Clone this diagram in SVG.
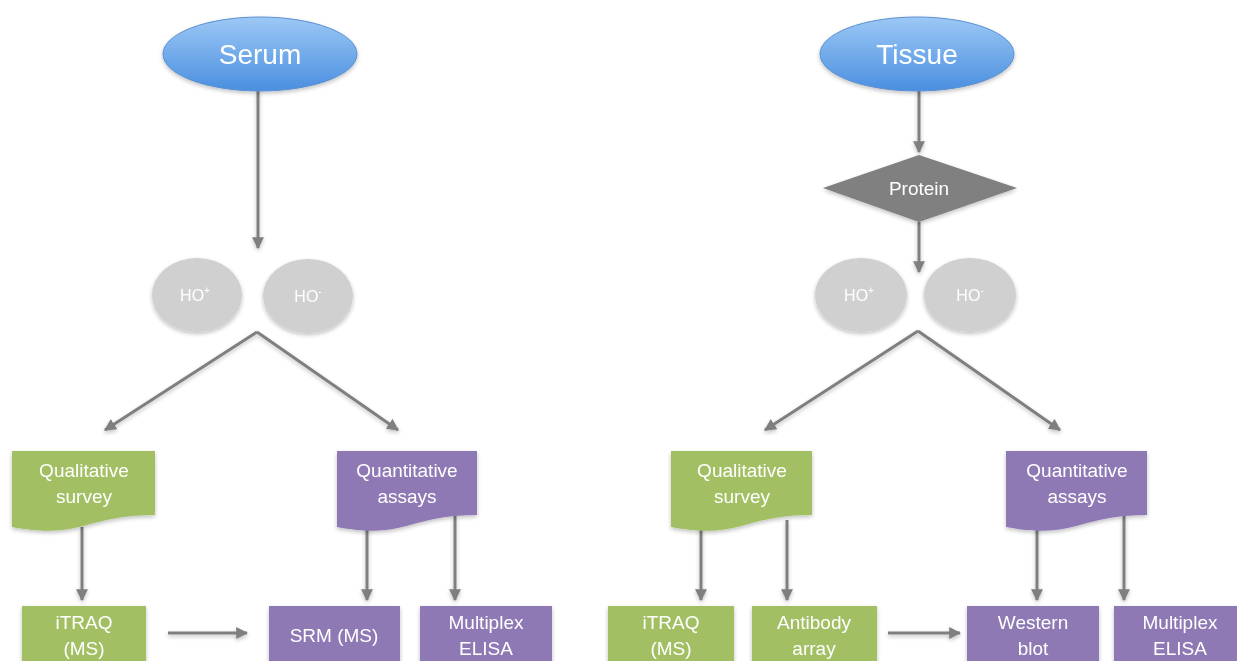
<svg xmlns="http://www.w3.org/2000/svg" width="1237" height="661" viewBox="0 0 1237 661">
<defs>
<linearGradient id="blue" x1="0" y1="0" x2="0" y2="1">
<stop offset="0" stop-color="#9CC8F5"/>
<stop offset="1" stop-color="#4A8FE0"/>
</linearGradient>
<filter id="sh" x="-20%" y="-20%" width="140%" height="150%">
<feGaussianBlur in="SourceAlpha" stdDeviation="2"/>
<feOffset dx="0" dy="2" result="b"/>
<feComponentTransfer><feFuncA type="linear" slope="0.25"/></feComponentTransfer>
<feMerge><feMergeNode/><feMergeNode in="SourceGraphic"/></feMerge>
</filter>
<marker id="ah" viewBox="0 0 10 10" refX="9" refY="5" markerWidth="4" markerHeight="4" orient="auto" markerUnits="strokeWidth">
<path d="M0,0 L10,5 L0,10 Z" fill="#7F7F7F"/>
</marker>
</defs>
<style>
.t{font-family:"Liberation Sans",Arial,sans-serif;fill:#fff;text-anchor:middle}
.big{font-size:28px}
.md{font-size:19px}
.sm{font-size:16px}
.green{fill:#A2C064}
.purple{fill:#8E79B4}
.gray{fill:#D0D0D0}
.dia{fill:#808080}
.c{stroke:#7F7F7F;stroke-width:3;fill:none;marker-end:url(#ah)}
</style>
<rect width="1237" height="661" fill="#fff"/>

<g id="connectors" filter="url(#sh)">
<line class="c" x1="258" y1="91" x2="258" y2="248"/>
<line class="c" x1="257" y1="332" x2="105" y2="430"/>
<line class="c" x1="257" y1="332" x2="398" y2="430"/>
<line class="c" x1="82" y1="527" x2="82" y2="600"/>
<line class="c" x1="367" y1="520" x2="367" y2="600"/>
<line class="c" x1="455" y1="516" x2="455" y2="600"/>
<line class="c" x1="168" y1="633" x2="247" y2="633"/>
<line class="c" x1="919" y1="91" x2="919" y2="152"/>
<line class="c" x1="919" y1="222" x2="919" y2="272"/>
<line class="c" x1="918" y1="331" x2="765" y2="430"/>
<line class="c" x1="918" y1="331" x2="1060" y2="430"/>
<line class="c" x1="701" y1="527" x2="701" y2="600"/>
<line class="c" x1="787" y1="520" x2="787" y2="600"/>
<line class="c" x1="1037" y1="520" x2="1037" y2="600"/>
<line class="c" x1="1124" y1="516" x2="1124" y2="600"/>
<line class="c" x1="888" y1="633" x2="960" y2="633"/>
</g>

<g id="serum" filter="url(#sh)">
<ellipse cx="260" cy="54" rx="97" ry="37" fill="url(#blue)" stroke="#5A8FD0" stroke-width="1"/>
<text class="t big" x="260" y="64">Serum</text>
</g>
<g id="tissue" filter="url(#sh)">
<ellipse cx="917" cy="54" rx="97" ry="37" fill="url(#blue)" stroke="#5A8FD0" stroke-width="1"/>
<text class="t big" x="917" y="64">Tissue</text>
</g>
<g id="protein" filter="url(#sh)">
<polygon class="dia" points="823,188 919,155 1017,188 919,222"/>
<text class="t md" x="919" y="195">Protein</text>
</g>

<g id="s-hoplus" filter="url(#sh)">
<ellipse class="gray" cx="197" cy="295" rx="45" ry="37"/>
<text class="t sm" x="195" y="301">HO<tspan font-size="10" dy="-7">+</tspan></text>
</g>
<g id="s-hominus" filter="url(#sh)">
<ellipse class="gray" cx="308" cy="296" rx="45" ry="37"/>
<text class="t sm" x="308" y="302">HO<tspan font-size="10" dy="-7">-</tspan></text>
</g>
<g id="t-hoplus" filter="url(#sh)">
<ellipse class="gray" cx="861" cy="295" rx="46" ry="37"/>
<text class="t sm" x="859" y="301">HO<tspan font-size="10" dy="-7">+</tspan></text>
</g>
<g id="t-hominus" filter="url(#sh)">
<ellipse class="gray" cx="970" cy="295" rx="46" ry="37"/>
<text class="t sm" x="970" y="301">HO<tspan font-size="10" dy="-7">-</tspan></text>
</g>

<g id="s-qual" filter="url(#sh)">
<path class="green" d="M12,451 H155 V515 C84,515 84,540 12,527 Z"/>
<text class="t md" x="84" y="477">Qualitative</text>
<text class="t md" x="84" y="503">survey</text>
</g>
<g id="s-quant" filter="url(#sh)">
<path class="purple" d="M337,451 H477 V515 C407,515 407,540 337,527 Z"/>
<text class="t md" x="407" y="477">Quantitative</text>
<text class="t md" x="407" y="503">assays</text>
</g>
<g id="t-qual" filter="url(#sh)">
<path class="green" d="M671,451 H812 V515 C742,515 742,540 671,527 Z"/>
<text class="t md" x="742" y="477">Qualitative</text>
<text class="t md" x="742" y="503">survey</text>
</g>
<g id="t-quant" filter="url(#sh)">
<path class="purple" d="M1006,451 H1147 V515 C1077,515 1077,540 1006,527 Z"/>
<text class="t md" x="1077" y="477">Quantitative</text>
<text class="t md" x="1077" y="503">assays</text>
</g>

<g id="s-itraq" filter="url(#sh)">
<rect class="green" x="22" y="606" width="124" height="60"/>
<text class="t md" x="84" y="629">iTRAQ</text>
<text class="t md" x="84" y="655">(MS)</text>
</g>
<g id="s-srm" filter="url(#sh)">
<rect class="purple" x="269" y="606" width="131" height="60"/>
<text class="t md" x="334" y="642">SRM (MS)</text>
</g>
<g id="s-multiplex" filter="url(#sh)">
<rect class="purple" x="420" y="606" width="132" height="60"/>
<text class="t md" x="486" y="629">Multiplex</text>
<text class="t md" x="486" y="655">ELISA</text>
</g>
<g id="t-itraq" filter="url(#sh)">
<rect class="green" x="608" y="606" width="126" height="60"/>
<text class="t md" x="671" y="629">iTRAQ</text>
<text class="t md" x="671" y="655">(MS)</text>
</g>
<g id="t-antibody" filter="url(#sh)">
<rect class="green" x="752" y="606" width="125" height="60"/>
<text class="t md" x="814" y="629">Antibody</text>
<text class="t md" x="814" y="655">array</text>
</g>
<g id="t-western" filter="url(#sh)">
<rect class="purple" x="967" y="606" width="132" height="60"/>
<text class="t md" x="1033" y="629">Western</text>
<text class="t md" x="1033" y="655">blot</text>
</g>
<g id="t-multiplex" filter="url(#sh)">
<rect class="purple" x="1114" y="606" width="125" height="60"/>
<text class="t md" x="1180" y="629">Multiplex</text>
<text class="t md" x="1180" y="655">ELISA</text>
</g>
</svg>
